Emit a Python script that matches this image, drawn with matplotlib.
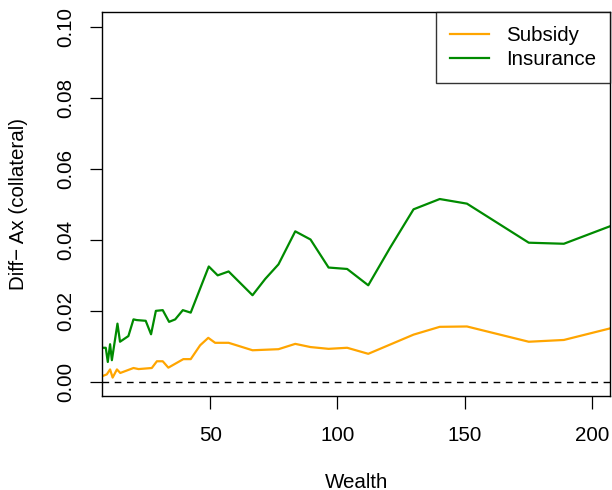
import matplotlib
matplotlib.use("Agg")
import matplotlib.pyplot as plt

plt.rcParams['font.family'] = ['Liberation Sans', 'DejaVu Sans']

# Data
wealth_insurance = [7.5, 8.9, 9.7, 10.6, 11.3, 13.5, 14.5, 17.8, 19.8, 21.1, 24.6, 26.7,
                    28.6, 31.3, 33.8, 36.2, 39.2, 42.3, 49.4, 52.9, 57.2, 66.6, 71.6,
                    76.8, 83.4, 89.4, 96.5, 103.8, 112.1, 120.7, 129.9, 140.2, 150.9,
                    175.2, 189.0, 207.4]
insurance = [0.0095, 0.0095, 0.0055, 0.0105, 0.0060, 0.0163, 0.0112, 0.0128, 0.0175,
             0.0173, 0.0171, 0.0133, 0.0199, 0.0201, 0.0168, 0.0175, 0.0201, 0.0194,
             0.0324, 0.0299, 0.0310, 0.0243, 0.0289, 0.0330, 0.0423, 0.0400, 0.0321,
             0.0317, 0.0271, 0.0377, 0.0485, 0.0514, 0.0501, 0.0391, 0.0388, 0.0438]

wealth_subsidy = [7.5, 9.3, 10.6, 11.6, 13.3, 14.6, 19.8, 21.8, 27.0, 29.0, 31.3, 33.5,
                  39.4, 42.3, 46.0, 49.2, 51.9, 57.2, 66.6, 76.8, 83.4, 89.4, 96.5,
                  103.8, 112.1, 129.9, 140.2, 150.9, 175.2, 189.0, 207.4]
subsidy = [0.0015, 0.0020, 0.0034, 0.0011, 0.0034, 0.0024, 0.0038, 0.0035, 0.0038,
           0.0057, 0.0057, 0.0039, 0.0063, 0.0063, 0.0102, 0.0123, 0.0109, 0.0109,
           0.0088, 0.0091, 0.0106, 0.0097, 0.0092, 0.0095, 0.0078, 0.0132, 0.0154,
           0.0155, 0.0112, 0.0117, 0.0150]

x_ticks = [50, 100, 150, 200]
y_ticks = [0.00, 0.02, 0.04, 0.06, 0.08, 0.10]
y_ticklabels = ["0.00", "0.02", "0.04", "0.06", "0.08", "0.10"]

W, H = 612, 490
fig = plt.figure(figsize=(W / 100, H / 100), dpi=100)
left, right, top, bottom = 102.2, 610.4, 12.3, 395.7
ax = fig.add_axes([left / W, 1 - bottom / H, (right - left) / W, (bottom - top) / H])

fs = 14.8
ax.plot(wealth_subsidy, subsidy, color='#FFA500', lw=1.6, label='Subsidy', solid_joinstyle='round')
ax.plot(wealth_insurance, insurance, color='#008B00', lw=1.6, label='Insurance', solid_joinstyle='round')
ax.axhline(0, color='black', lw=1.0, dashes=(4.8, 4.0))

ax.set_xlim(7.5, 207.3)
ax.set_ylim(-0.004, 0.104)
ax.set_xticks(x_ticks)
ax.set_xticklabels([str(t) for t in x_ticks], fontsize=fs)
ax.set_yticks(y_ticks)
ax.set_yticklabels(y_ticklabels, fontsize=fs, rotation=90, va='center')
ax.tick_params(axis='x', direction='out', length=9.1, width=0.9, pad=12.4)
ax.tick_params(axis='y', direction='out', length=8.4, width=0.9, pad=11.3)
for s in ax.spines.values():
    s.set_linewidth(1.0)
    s.set_color('black')

fig.text(356.3 / W, 1 - 482 / H, 'Wealth', fontsize=fs, ha='center', va='center')
fig.text(18.5 / W, 1 - 204 / H, 'Diff\u2212 Ax (collateral)', fontsize=fs, ha='center',
         va='center', rotation=90)

leg = ax.legend(loc='upper right', fontsize=fs, frameon=True, fancybox=False,
                borderaxespad=0, handlelength=1.9, handletextpad=0.85,
                borderpad=0.68, labelspacing=0.22)
leg.get_frame().set_edgecolor('black')
leg.get_frame().set_linewidth(1.0)
for l in leg.get_lines():
    l.set_linewidth(1.6)

fig.savefig('out.png', dpi=100)
